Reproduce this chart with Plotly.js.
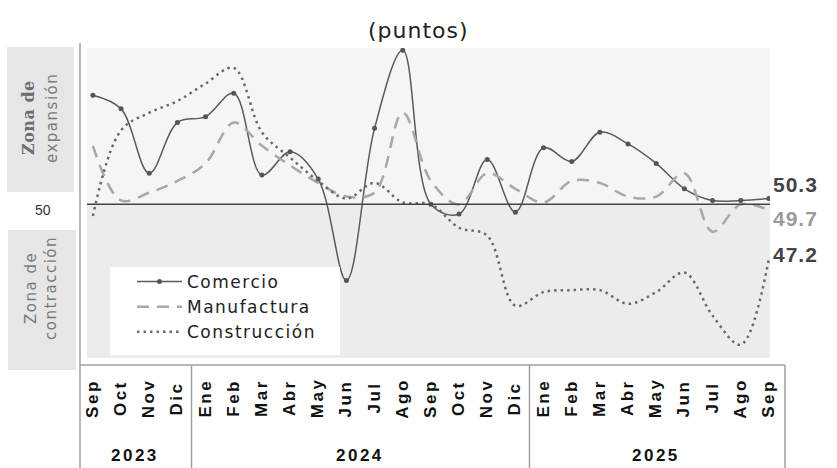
<!DOCTYPE html>
<html>
<head>
<meta charset="utf-8">
<script src="https://cdn.plot.ly/plotly-3.0.1.min.js"></script>
<style>
  html, body { margin: 0; padding: 0; background: #ffffff; }
  #chart { width: 837px; height: 468px; }
</style>
</head>
<body>
<div id="chart"></div>
<script>
// ---- data ----
var months = ["Sep","Oct","Nov","Dic","Ene","Feb","Mar","Abr","May","Jun","Jul","Ago","Sep","Oct","Nov","Dic","Ene","Feb","Mar","Abr","May","Jun","Jul","Ago","Sep"];
var years = ["2023","2024","2025"];
var yearStart = [0, 4, 16];
var yearEnd = [3, 15, 24];
var seriesNames = ["Comercio","Manufactura","Construcción"];
var comercio =     [55.6,54.9,51.6,54.2,54.5,55.7,51.5,52.7,51.3,46.1,53.9,57.9,50.0,49.5,52.3,49.6,52.9,52.2,53.7,53.1,52.1,50.8,50.2,50.2,50.3];
var manufactura =  [53.0,50.2,50.6,51.2,52.1,54.2,53.0,52.0,51.1,50.4,50.6,54.7,51.2,50.0,51.6,50.8,50.1,51.2,51.1,50.4,50.4,51.6,48.6,50.0,49.7];
var construccion = [49.4,53.8,54.7,55.3,56.2,57.0,53.7,52.4,51.2,50.3,51.1,50.1,50.0,48.8,48.4,44.8,45.5,45.6,45.6,44.9,45.5,46.5,44.3,42.8,47.2];
var threshold = 50;

// ---- geometry helpers (pixel layout of plot area) ----
var L = 87, R = 770, T = 48, B = 358, W = R - L, H = B - T;
function xp(px) { return (px - L) / W; }
function yp(py) { return (B - py) / H; }
var xr = [-0.21, 24.04];
var yr = [42.12, 58.02];
function idxPx(i) { return L + (i - xr[0]) / (xr[1] - xr[0]) * W; }
function spaced(t, s) { return '<span style="letter-spacing:' + s + 'px">' + t + '</span>'; }

var idx = months.map(function (m, i) { return i; });

var traces = [
  {
    x: idx, y: comercio, name: spaced(seriesNames[0], 1.5), type: "scatter", mode: "lines+markers",
    line: { color: "#5a5a5a", width: 1.5, shape: "spline", smoothing: 1 },
    marker: { color: "#555555", size: 5 }
  },
  {
    x: idx, y: manufactura, name: spaced(seriesNames[1], 1.5), type: "scatter", mode: "lines",
    line: { color: "#a8a8a8", width: 2.5, dash: "12px,8px", shape: "spline", smoothing: 1 }
  },
  {
    x: idx, y: construccion, name: spaced(seriesNames[2], 1.5), type: "scatter", mode: "lines",
    line: { color: "#6a6a6a", width: 2.5, dash: "2.5px,4px", shape: "spline", smoothing: 1 }
  }
];

var shapes = [
  // background zones
  { type: "rect", xref: "paper", yref: "y", x0: 0, x1: 1, y0: threshold, y1: yr[1], fillcolor: "#f5f5f5", line: { width: 0 }, layer: "below" },
  { type: "rect", xref: "paper", yref: "y", x0: 0, x1: 1, y0: yr[0], y1: threshold, fillcolor: "#ececec", line: { width: 0 }, layer: "below" },
  // threshold line
  { type: "line", xref: "paper", yref: "y", x0: 0, x1: 1, y0: threshold, y1: threshold, line: { color: "#444444", width: 1.5 } },
  // left zone boxes
  { type: "rect", xref: "paper", yref: "paper", x0: xp(7), x1: xp(74), y0: yp(192), y1: yp(47), fillcolor: "#e6e6e6", line: { width: 0 } },
  { type: "rect", xref: "paper", yref: "paper", x0: xp(8), x1: xp(76), y0: yp(370), y1: yp(230), fillcolor: "#e6e6e6", line: { width: 0 } },
  // vertical axis line
  { type: "line", xref: "paper", yref: "paper", x0: xp(80), x1: xp(80), y0: yp(43), y1: yp(468), line: { color: "#a0a0a0", width: 1.5 } },
  // bottom frame
  { type: "line", xref: "paper", yref: "paper", x0: xp(80), x1: xp(785), y0: yp(365), y1: yp(365), line: { color: "#a0a0a0", width: 1.5 } },
  { type: "line", xref: "paper", yref: "paper", x0: xp(785), x1: xp(785), y0: yp(365), y1: yp(468), line: { color: "#a0a0a0", width: 1.5 } },
  // legend white box
  { type: "rect", xref: "paper", yref: "paper", x0: xp(110), x1: xp(340), y0: yp(355), y1: yp(267), fillcolor: "#ffffff", line: { width: 0 }, layer: "above" }
];
// year separators
for (var k = 0; k < years.length - 1; k++) {
  var sx = xp(idxPx((yearEnd[k] + yearStart[k + 1]) / 2));
  shapes.push({ type: "line", xref: "paper", yref: "paper", x0: sx, x1: sx, y0: yp(365), y1: yp(468), line: { color: "#a0a0a0", width: 1.5 } });
}

function ann(o) { o.showarrow = false; if (!o.xanchor) o.xanchor = "center"; if (!o.yanchor) o.yanchor = "middle"; return o; }

var annotations = [
  ann({ text: spaced("(puntos)", 1), xref: "paper", yref: "paper", x: xp(418), y: yp(31),
    font: { family: "DejaVu Sans", size: 22, color: "#222222" } }),
  ann({ text: "<b>" + spaced("Zona de", 0.5) + "</b>", xref: "paper", yref: "paper", x: xp(28), y: yp(118), textangle: -90,
    font: { family: "DejaVu Serif", size: 16, color: "#6e6e6e" } }),
  ann({ text: spaced("expansión", 1.5), xref: "paper", yref: "paper", x: xp(52), y: yp(118), textangle: -90,
    font: { family: "DejaVu Sans", size: 15, color: "#7a7a7a" } }),
  ann({ text: spaced("Zona de", 1.5), xref: "paper", yref: "paper", x: xp(31), y: yp(288), textangle: -90,
    font: { family: "DejaVu Sans", size: 15, color: "#7a7a7a" } }),
  ann({ text: spaced("contracción", 1.5), xref: "paper", yref: "paper", x: xp(51), y: yp(288), textangle: -90,
    font: { family: "DejaVu Sans", size: 15, color: "#7a7a7a" } }),
  ann({ text: String(threshold), xref: "paper", yref: "paper", x: xp(43), y: yp(210),
    font: { family: "Liberation Sans", size: 14, color: "#333333" } }),
  // end labels
  ann({ text: "<b>" + spaced(comercio[24].toFixed(1), 1) + "</b>", xref: "x", yref: "y", x: 24, y: comercio[24], xanchor: "left", xshift: 2, yshift: 14,
    font: { family: "Liberation Sans", size: 21, color: "#444444" } }),
  ann({ text: "<b>" + spaced(manufactura[24].toFixed(1), 1) + "</b>", xref: "x", yref: "y", x: 24, y: manufactura[24], xanchor: "left", xshift: 2, yshift: -8,
    font: { family: "Liberation Sans", size: 21, color: "#9a9a9a" } }),
  ann({ text: "<b>" + spaced(construccion[24].toFixed(1), 1) + "</b>", xref: "x", yref: "y", x: 24, y: construccion[24], xanchor: "left", xshift: 2, yshift: 4,
    font: { family: "Liberation Sans", size: 21, color: "#444444" } })
];
months.forEach(function (m, i) {
  annotations.push(ann({ text: "<b>" + spaced(m, 2.5) + "</b>", xref: "x", yref: "paper", x: i, y: yp(398), textangle: -90,
    font: { family: "Liberation Sans", size: 17, color: "#111111" } }));
});
years.forEach(function (yv, k) {
  annotations.push(ann({ text: "<b>" + spaced(yv, 2.5) + "</b>", xref: "x", yref: "paper", x: (yearStart[k] + yearEnd[k]) / 2, y: yp(455),
    font: { family: "Liberation Sans", size: 17, color: "#111111" } }));
});

var layout = {
  width: 837, height: 468,
  margin: { l: L, r: 837 - R, t: T, b: 468 - B, pad: 0 },
  paper_bgcolor: "#ffffff", plot_bgcolor: "rgba(0,0,0,0)",
  showlegend: true,
  legend: {
    x: xp(132), y: yp(264), xanchor: "left", yanchor: "top",
    bgcolor: "rgba(0,0,0,0)", borderwidth: 0, itemwidth: 45,
    font: { family: "DejaVu Sans", size: 17, color: "#222222" },
    tracegroupgap: 0
  },
  xaxis: { range: xr, showgrid: false, zeroline: false, showline: false, showticklabels: false, ticks: "", fixedrange: true },
  yaxis: { range: yr, showgrid: false, zeroline: false, showline: false, showticklabels: false, ticks: "", fixedrange: true },
  shapes: shapes,
  annotations: annotations
};

Plotly.newPlot("chart", traces, layout, { displayModeBar: false, staticPlot: true });
</script>
</body>
</html>
